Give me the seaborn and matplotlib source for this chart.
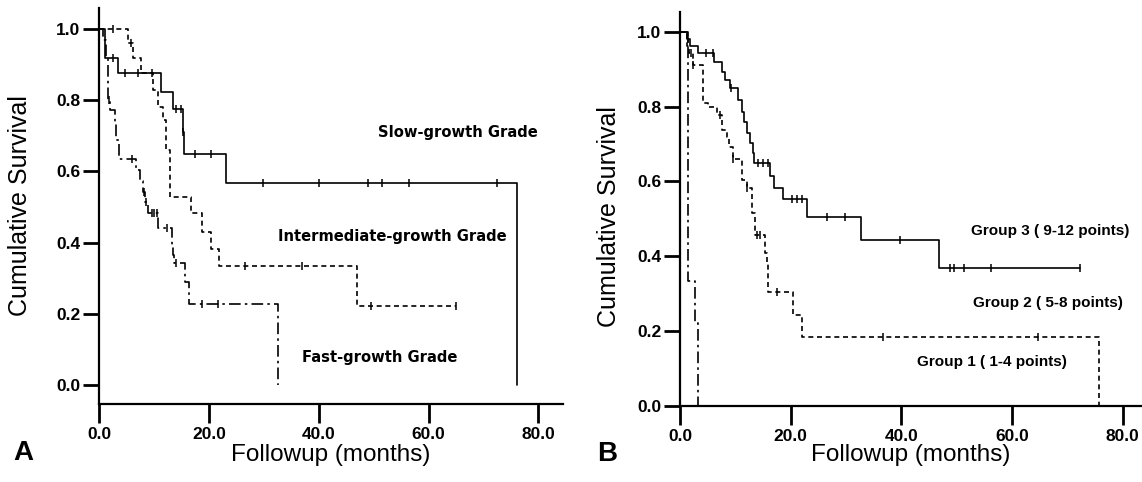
import numpy as np
import pandas as pd
import seaborn as sns
from matplotlib import pyplot as plt

# Panel A: survival by tumour growth grade (time in months, step survival)
slow_t = [0, 1.1, 3.5, 11.2, 13.4, 15.2, 15.5, 23.1, 76.0]
slow_s = [1.0, 0.92, 0.877, 0.823, 0.775, 0.71, 0.649, 0.567, 0.0]
slow_cens = [2.5, 4.7, 7.1, 9.6, 14.1, 15.0, 15.3, 17.5, 20.4, 29.9, 40.0, 49.0, 51.6, 56.4, 72.5]

inter_t = [0, 5.3, 6.2, 7.6, 9.9, 10.8, 11.6, 12.2, 12.9, 16.8, 18.7, 20.4, 21.9, 46.9, 64.9]
inter_s = [1.0, 0.96, 0.92, 0.877, 0.83, 0.78, 0.744, 0.66, 0.528, 0.483, 0.43, 0.382, 0.334, 0.222, 0.222]
inter_cens = [2.5, 5.9, 26.5, 36.9, 49.6, 64.9]

fast_t = [0, 0.8, 1.3, 1.6, 2.0, 2.9, 3.1, 3.6, 6.7, 7.4, 8.0, 8.4, 8.9, 10.8, 13.2, 13.4, 13.6, 15.6, 16.4, 32.6]
fast_s = [1.0, 0.97, 0.92, 0.80, 0.772, 0.74, 0.688, 0.634, 0.604, 0.574, 0.543, 0.514, 0.483, 0.44, 0.39,
          0.365, 0.342, 0.29, 0.228, 0.0]
fast_cens = [1.8, 6.0, 8.2, 8.6, 9.6, 10.0, 10.5, 12.3, 14.1, 18.7, 21.7]

# Panel B: survival by score group
g3_t = [0, 1.3, 1.8, 3.3, 6.2, 7.6, 8.1, 9.0, 10.5, 11.2, 11.6, 12.1, 12.7, 13.2, 13.4, 16.3, 17.0, 18.6,
        23.0, 32.7, 46.8, 72.3]
g3_s = [1.0, 0.981, 0.963, 0.944, 0.92, 0.893, 0.872, 0.85, 0.818, 0.786, 0.76, 0.73, 0.703, 0.676, 0.65,
        0.615, 0.583, 0.553, 0.506, 0.444, 0.369, 0.369]
g3_cens = [1.4, 4.7, 6.0, 9.3, 14.1, 15.0, 15.9, 20.2, 21.1, 22.0, 26.6, 29.8, 39.8, 48.8, 49.6, 51.4, 56.2, 72.3]

g2_t = [0, 1.3, 1.6, 2.3, 4.1, 5.0, 6.7, 7.6, 8.5, 8.8, 9.5, 11.2, 12.1, 13.0, 13.6, 15.4, 15.7, 15.9,
        20.4, 22.1, 75.8]
g2_s = [1.0, 0.963, 0.944, 0.912, 0.81, 0.80, 0.778, 0.738, 0.72, 0.693, 0.66, 0.604, 0.583, 0.516, 0.456,
        0.408, 0.385, 0.304, 0.243, 0.183, 0.0]
g2_cens = [2.0, 2.4, 7.2, 9.6, 12.2, 13.9, 14.5, 17.5, 36.7, 64.7]

g1_t = [0, 1.4, 2.7, 3.3]
g1_s = [1.0, 0.333, 0.222, 0.0]
g1_cens = []

x_ticks = [0, 20, 40, 60, 80]
y_ticks = [0.0, 0.2, 0.4, 0.6, 0.8, 1.0]

DASHED = (0, (3, 2.2))
DASHDOT = (0, (7, 2.5, 1.5, 2.5))


def step_value(times, surv, t):
    # survival level of a step curve at time t (right-continuous)
    idx = np.searchsorted(times, t, side='right') - 1
    return np.asarray(surv)[idx]


def draw_curve(ax, times, surv, cens, ls):
    df = pd.DataFrame({'t': times, 's': surv})
    sns.lineplot(data=df, x='t', y='s', ax=ax, estimator=None, sort=False,
                 drawstyle='steps-post', color='black', linewidth=1.2, linestyle=ls)
    if len(cens):
        cdf = pd.DataFrame({'t': cens, 's': step_value(times, surv, cens)})
        sns.scatterplot(data=cdf, x='t', y='s', ax=ax, marker='|', s=40,
                        color='black', linewidth=1.1, zorder=3)


def style_axes(ax, xmax, ymin, ymax):
    ax.set_xlim(0, xmax)
    ax.set_ylim(ymin, ymax)
    ax.set_xticks(x_ticks)
    ax.set_xticklabels([f'{v:.1f}' for v in x_ticks], fontweight='bold')
    ax.set_yticks(y_ticks)
    ax.set_yticklabels([f'{v:.1f}' for v in y_ticks], fontweight='bold')
    ax.xaxis.set_tick_params(which='major', bottom=True, direction='out', length=13.5, width=2,
                             color='black', labelcolor='black', labelsize=12.5, pad=3)
    ax.yaxis.set_tick_params(which='major', left=True, direction='out', length=11.5, width=2,
                             color='black', labelcolor='black', labelsize=12.5, pad=2)
    for side in ['top', 'right']:
        ax.spines[side].set_visible(False)
    for side in ['left', 'bottom']:
        ax.spines[side].set_linewidth(1.6)
        ax.spines[side].set_color('black')
    ax.set_ylabel('Cumulative Survival', fontsize=18)
    ax.set_xlabel('Followup (months)', fontsize=17.5)
    ax.xaxis.label.set_va('center')


def plot():
    sns.set_theme(style='ticks')
    plt.rcParams['font.family'] = ['Liberation Sans', 'DejaVu Sans']
    plt.rcParams['text.color'] = 'black'
    plt.rcParams['axes.labelcolor'] = 'black'

    fig = plt.figure(figsize=(11.42, 4.82), dpi=100)
    ax_a = fig.add_axes([0.0867, 0.162, 0.406, 0.822])
    ax_b = fig.add_axes([0.5954, 0.158, 0.4046, 0.817])

    draw_curve(ax_a, slow_t, slow_s, slow_cens, '-')
    draw_curve(ax_a, inter_t, inter_s, inter_cens, DASHED)
    draw_curve(ax_a, fast_t, fast_s, fast_cens, DASHDOT)
    style_axes(ax_a, 84.4, -0.053, 1.06)

    draw_curve(ax_b, g3_t, g3_s, g3_cens, '-')
    draw_curve(ax_b, g2_t, g2_s, g2_cens, DASHED)
    draw_curve(ax_b, g1_t, g1_s, g1_cens, DASHDOT)
    style_axes(ax_b, 83.5, 0.0, 1.053)

    lab_a = dict(fontsize=10.6, fontweight='bold', family=['DejaVu Sans'], va='center', ha='left')
    ax_a.text(50.7, 0.71, 'Slow-growth Grade', **lab_a)
    ax_a.text(32.5, 0.416, 'Intermediate-growth Grade', **lab_a)
    ax_a.text(36.9, 0.076, 'Fast-growth Grade', **lab_a)

    lab_b = dict(fontsize=11, fontweight='bold', family=['Liberation Sans Narrow', 'Liberation Sans'],
                 va='center', ha='left')
    ax_b.text(52.6, 0.468, 'Group 3 ( 9-12 points)', **lab_b)
    ax_b.text(53.0, 0.275, 'Group 2 ( 5-8 points)', **lab_b)
    ax_b.text(42.9, 0.118, 'Group 1 ( 1-4 points)', **lab_b)

    ax_a.xaxis.set_label_coords(0.5, -0.128)
    ax_a.yaxis.set_label_coords(-0.144, 0.5)
    ax_b.xaxis.set_label_coords(0.5, -0.126)
    ax_b.yaxis.set_label_coords(-0.128, 0.48)

    fig.text(23 / 1142, 1 - 453 / 482, 'A', fontsize=20, fontweight='bold', ha='center', va='center')
    fig.text(607 / 1142, 1 - 454 / 482, 'B', fontsize=20, fontweight='bold', ha='center', va='center')

    fig.savefig('out.png', dpi=100, facecolor='white')


def main():
    plot()


if __name__ == "__main__":
    main()
